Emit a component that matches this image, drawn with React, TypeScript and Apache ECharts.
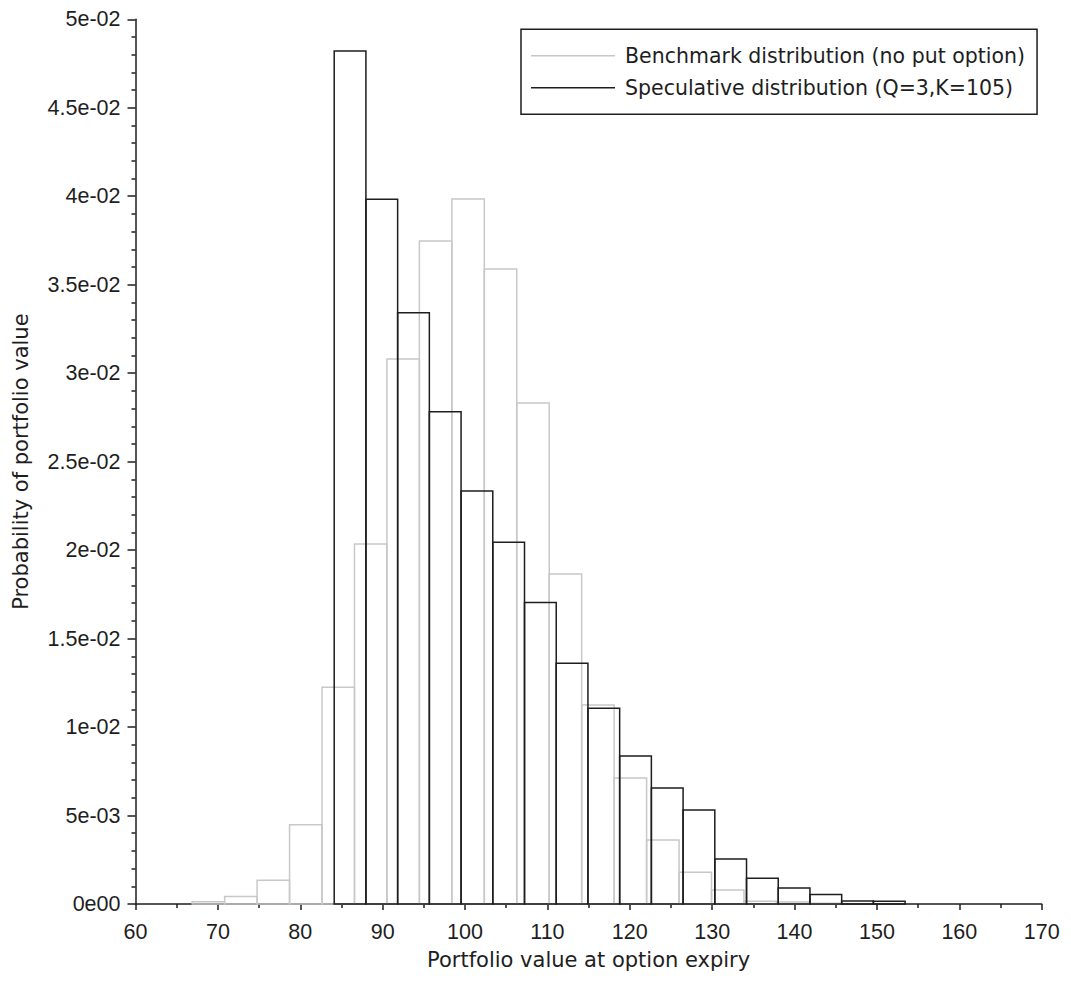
import React, { useEffect, useRef } from "react";
import * as echarts from "echarts";

const benchmarkName = "Benchmark distribution (no put option)";
const speculativeName = "Speculative distribution (Q=3,K=105)";

const benchmarkStart = 66.88;
const benchmarkWidth = 3.94;
const benchmarkDensity = [
  0.00013, 0.00043, 0.00134, 0.00448, 0.01225, 0.02035, 0.0308, 0.03747, 0.03984, 0.03589,
  0.02831, 0.01865, 0.01125, 0.00712, 0.00362, 0.00179, 0.00079, 0.00016, 0.00012, 0.00004,
];

const speculativeStart = 84.12;
const speculativeWidth = 3.85;
const speculativeDensity = [
  0.04821, 0.03983, 0.03342, 0.02782, 0.02334, 0.02044, 0.01704, 0.0136, 0.01106, 0.00836,
  0.00656, 0.00531, 0.00254, 0.00145, 0.0009, 0.00053, 0.00017, 0.00016,
];

const xTicks = { min: 60, max: 170, interval: 10 };
const yTicks = { min: 0, max: 0.05, interval: 0.005 };

const FONT = "'Liberation Sans', Arial, sans-serif";
const WIDE = "'DejaVu Sans', 'Liberation Sans', sans-serif";
const TEXT = "#1e1e1e";

function bins(start: number, width: number, values: number[]) {
  return values.map((v, i) => [start + i * width, start + (i + 1) * width, v]);
}

function fmtY(v: number) {
  if (v === 0) return "0e00";
  const s = Number(v.toPrecision(8)).toExponential();
  const m = s.match(/^([\d.]+)e([+-])(\d+)$/);
  if (!m) return s;
  const exp = m[3].padStart(2, "0");
  return `${m[1]}e${m[2] === "-" ? "-" : ""}${exp}`;
}

function histSeries(name: string, data: number[][], color: string, z: number) {
  return {
    type: "custom",
    name,
    z,
    itemStyle: { color },
    encode: { x: [0, 1], y: 2 },
    data,
    renderItem: (_params: any, api: any) => {
      const p0 = api.coord([api.value(0), api.value(2)]);
      const p1 = api.coord([api.value(1), 0]);
      return {
        type: "rect",
        shape: { x: p0[0], y: p0[1], width: p1[0] - p0[0], height: p1[1] - p0[1] },
        style: { fill: "none", stroke: color, lineWidth: 1.5 },
      };
    },
  };
}

export default function App() {
  const ref = useRef<HTMLDivElement>(null);
  useEffect(() => {
    if (!ref.current) return;
    const chart = echarts.init(ref.current, undefined, { renderer: "svg" });
    chart.setOption({
      animation: false,
      backgroundColor: "#ffffff",
      textStyle: { fontFamily: FONT },
      grid: { left: 135.5, right: 29.3, top: 19.3, bottom: 80, containLabel: false },
      legend: {
        orient: "vertical",
        left: 521,
        top: 29.3,
        padding: [16, 12, 16, 10],
        itemGap: 11,
        itemWidth: 84,
        itemHeight: 1.5,
        borderColor: "#1e1e1e",
        borderWidth: 1.5,
        borderRadius: 0,
        backgroundColor: "#ffffff",
        textStyle: { fontFamily: WIDE, fontSize: 20.5, color: TEXT, padding: [0, 0, 0, 5] },
        data: [
          { name: benchmarkName, icon: "rect", itemStyle: { color: "#c8c8c8" } },
          { name: speculativeName, icon: "rect", itemStyle: { color: "#1e1e1e" } },
        ],
      },
      xAxis: {
        type: "value",
        min: xTicks.min,
        max: xTicks.max,
        interval: xTicks.interval,
        name: "Portfolio value at option expiry",
        nameLocation: "middle",
        nameGap: 45,
        nameTextStyle: { fontFamily: WIDE, fontSize: 21, color: TEXT },
        axisLine: { show: true, onZero: false, lineStyle: { color: "#1e1e1e", width: 1.5 } },
        axisTick: { show: true, length: 6, lineStyle: { color: "#1e1e1e", width: 1.5 } },
        minorTick: { show: true, splitNumber: 2, length: 4, lineStyle: { color: "#1e1e1e", width: 1.5 } },
        splitLine: { show: false },
        axisLabel: { fontFamily: FONT, fontSize: 21.5, color: TEXT, margin: 17 },
      },
      yAxis: {
        type: "value",
        min: yTicks.min,
        max: yTicks.max,
        interval: yTicks.interval,
        name: "Probability of portfolio value",
        nameLocation: "middle",
        nameGap: 104,
        nameRotate: 90,
        nameTextStyle: { fontFamily: WIDE, fontSize: 21, color: TEXT },
        axisLine: { show: true, onZero: false, lineStyle: { color: "#1e1e1e", width: 1.5 } },
        axisTick: { show: true, length: 8, lineStyle: { color: "#1e1e1e", width: 1.5 } },
        minorTick: { show: true, splitNumber: 5, length: 4, lineStyle: { color: "#1e1e1e", width: 1.5 } },
        splitLine: { show: false },
        axisLabel: { fontFamily: FONT, fontSize: 21.5, color: TEXT, margin: 15, formatter: fmtY },
      },
      series: [
        histSeries(benchmarkName, bins(benchmarkStart, benchmarkWidth, benchmarkDensity), "#c8c8c8", 2),
        histSeries(speculativeName, bins(speculativeStart, speculativeWidth, speculativeDensity), "#1e1e1e", 3),
      ],
    });
    return () => chart.dispose();
  }, []);
  return (
    <div
      ref={ref}
      style={{ position: "fixed", left: 0, top: 0, width: 1071, height: 984, background: "#fff" }}
    />
  );
}
